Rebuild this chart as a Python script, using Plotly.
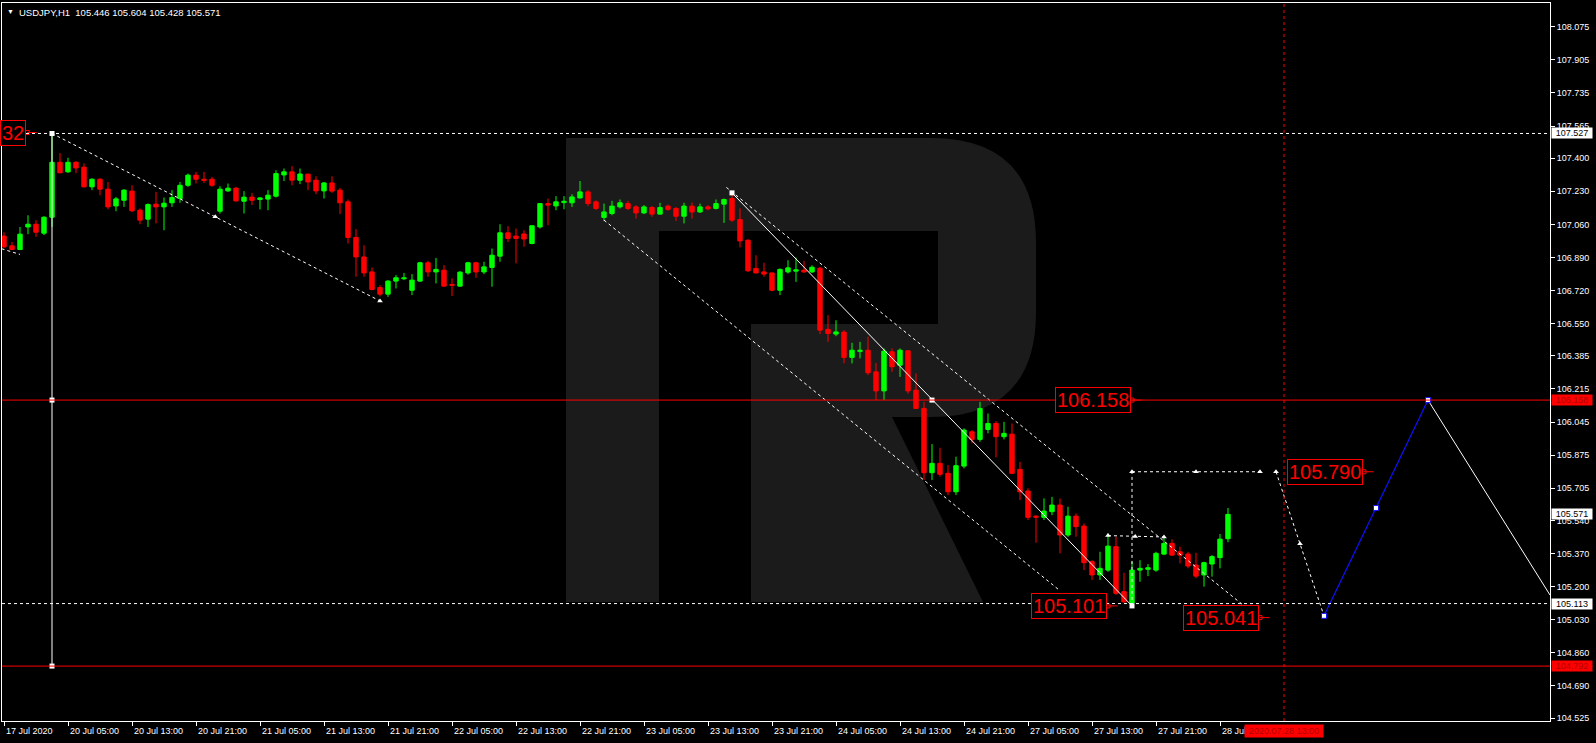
import plotly.graph_objects as go

# ---------------- data ----------------
TITLE_SYMBOL = "USDJPY,H1"
TITLE_OHLC = ["105.446", "105.604", "105.428", "105.571"]

OPEN = [107.000, 106.950, 106.931, 107.047, 107.061, 107.015, 107.097, 107.379, 107.330, 107.379,
        107.354, 107.253, 107.292, 107.241, 107.155, 107.184, 107.231, 107.133, 107.087, 107.164,
        107.150, 107.171, 107.193, 107.261, 107.313, 107.292, 107.292, 107.128, 107.232, 107.246,
        107.179, 107.200, 107.188, 107.190, 107.205, 107.314, 107.330, 107.287, 107.318, 107.287,
        107.232, 107.273, 107.236, 107.176, 106.993, 106.893, 106.816, 106.736, 106.702, 106.769,
        106.781, 106.722, 106.769, 106.863, 106.816, 106.825, 106.752, 106.743, 106.811, 106.863,
        106.816, 106.839, 106.897, 107.017, 107.000, 107.011, 106.962, 107.047, 107.167, 107.155,
        107.172, 107.171, 107.196, 107.227, 107.176, 107.096, 107.116, 107.150, 107.167, 107.150,
        107.119, 107.147, 107.113, 107.154, 107.142, 107.102, 107.154, 107.124, 107.150, 107.142,
        107.164, 107.193, 107.085, 106.979, 106.834, 106.816, 106.811, 106.722, 106.816, 106.820,
        106.825, 106.816, 106.835, 106.521, 106.497, 106.507, 106.377, 106.408, 106.414, 106.303,
        106.205, 106.406, 106.337, 106.411, 106.209, 106.115, 105.785, 105.833, 105.782, 105.687,
        105.819, 105.995, 105.956, 106.007, 106.038, 105.970, 105.983, 105.802, 105.691, 105.562,
        105.556, 105.585, 105.619, 105.465, 105.562, 105.511, 105.328, 105.260, 105.285, 105.405,
        105.174, 105.115, 105.285, 105.289, 105.285, 105.367, 105.422, 105.379, 105.367, 105.311,
        105.260, 105.316, 105.349, 105.446]

HIGH = [107.020, 106.970, 107.047, 107.107, 107.082, 107.102, 107.527, 107.426, 107.402, 107.385,
        107.373, 107.297, 107.297, 107.278, 107.201, 107.241, 107.261, 107.142, 107.168, 107.227,
        107.198, 107.236, 107.278, 107.321, 107.330, 107.330, 107.304, 107.256, 107.270, 107.253,
        107.231, 107.222, 107.201, 107.236, 107.338, 107.347, 107.359, 107.347, 107.321, 107.307,
        107.278, 107.307, 107.248, 107.188, 107.036, 106.953, 106.839, 106.748, 106.774, 106.800,
        106.811, 106.805, 106.868, 106.873, 106.888, 106.851, 106.783, 106.820, 106.868, 106.868,
        106.868, 106.936, 107.061, 107.051, 107.039, 107.030, 107.056, 107.170, 107.193, 107.205,
        107.205, 107.215, 107.283, 107.236, 107.184, 107.167, 107.181, 107.188, 107.181, 107.159,
        107.159, 107.154, 107.171, 107.162, 107.150, 107.171, 107.173, 107.167, 107.159, 107.188,
        107.193, 107.222, 107.142, 106.983, 106.902, 106.863, 106.811, 106.834, 106.876, 106.890,
        106.873, 106.850, 106.842, 106.594, 106.568, 106.517, 106.452, 106.457, 106.483, 106.349,
        106.423, 106.423, 106.423, 106.414, 106.295, 106.149, 105.932, 105.913, 105.824, 105.867,
        106.013, 106.004, 106.149, 106.089, 106.050, 106.046, 106.038, 105.841, 105.705, 105.567,
        105.653, 105.661, 105.653, 105.610, 105.576, 105.525, 105.336, 105.379, 105.473, 105.456,
        105.271, 105.328, 105.336, 105.316, 105.379, 105.453, 105.443, 105.405, 105.379, 105.374,
        105.328, 105.362, 105.470, 105.604]

LOW = [106.938, 106.928, 106.928, 107.010, 106.996, 107.005, 107.047, 107.323, 107.325, 107.323,
       107.250, 107.236, 107.210, 107.138, 107.128, 107.150, 107.124, 107.061, 107.047, 107.065,
       107.030, 107.150, 107.171, 107.253, 107.270, 107.273, 107.253, 107.116, 107.227, 107.176,
       107.116, 107.159, 107.137, 107.133, 107.198, 107.283, 107.261, 107.267, 107.236, 107.215,
       107.193, 107.222, 107.113, 106.962, 106.791, 106.791, 106.722, 106.690, 106.688, 106.731,
       106.774, 106.697, 106.765, 106.791, 106.757, 106.740, 106.692, 106.740, 106.802, 106.786,
       106.805, 106.740, 106.868, 106.970, 106.860, 106.945, 106.958, 107.039, 107.056, 107.133,
       107.138, 107.150, 107.193, 107.154, 107.133, 107.077, 107.107, 107.142, 107.133, 107.090,
       107.113, 107.099, 107.111, 107.130, 107.078, 107.065, 107.090, 107.119, 107.133, 107.137,
       107.068, 107.073, 106.942, 106.816, 106.808, 106.791, 106.717, 106.697, 106.808, 106.765,
       106.811, 106.811, 106.497, 106.457, 106.486, 106.346, 106.346, 106.372, 106.286, 106.158,
       106.158, 106.303, 106.277, 106.190, 106.112, 105.747, 105.747, 105.764, 105.670, 105.670,
       105.807, 105.936, 105.944, 105.987, 105.864, 105.956, 105.778, 105.644, 105.542, 105.425,
       105.542, 105.567, 105.371, 105.456, 105.456, 105.285, 105.234, 105.234, 105.276, 105.157,
       105.117, 105.101, 105.225, 105.254, 105.276, 105.362, 105.357, 105.319, 105.294, 105.243,
       105.200, 105.251, 105.294, 105.428]

CLOSE = [106.945, 106.931, 107.010, 107.061, 107.020, 107.097, 107.379, 107.325, 107.379, 107.350,
         107.253, 107.292, 107.241, 107.150, 107.191, 107.236, 107.130, 107.082, 107.162, 107.150,
         107.169, 107.198, 107.261, 107.313, 107.292, 107.286, 107.261, 107.241, 107.246, 107.181,
         107.200, 107.184, 107.196, 107.210, 107.321, 107.330, 107.287, 107.319, 107.278, 107.232,
         107.273, 107.231, 107.171, 106.993, 106.893, 106.811, 106.726, 106.702, 106.769, 106.786,
         106.786, 106.774, 106.863, 106.816, 106.829, 106.743, 106.747, 106.815, 106.863, 106.816,
         106.842, 106.902, 107.017, 106.988, 106.988, 106.985, 107.053, 107.167, 107.159, 107.176,
         107.179, 107.201, 107.227, 107.167, 107.142, 107.124, 107.154, 107.171, 107.142, 107.119,
         107.150, 107.113, 107.147, 107.137, 107.102, 107.154, 107.124, 107.150, 107.140, 107.167,
         107.188, 107.082, 106.975, 106.822, 106.811, 106.805, 106.722, 106.829, 106.837, 106.827,
         106.816, 106.840, 106.517, 106.500, 106.508, 106.377, 106.414, 106.414, 106.298, 106.205,
         106.409, 106.329, 106.414, 106.205, 106.115, 105.785, 105.833, 105.777, 105.687, 105.821,
         106.004, 105.956, 106.115, 106.038, 105.970, 105.987, 105.782, 105.687, 105.556, 105.556,
         105.588, 105.619, 105.465, 105.562, 105.508, 105.323, 105.260, 105.294, 105.408, 105.166,
         105.122, 105.285, 105.294, 105.297, 105.371, 105.422, 105.362, 105.362, 105.306, 105.254,
         105.323, 105.354, 105.444, 105.571]

DATE_TICK_BARS = [0, 8, 16, 24, 32, 40, 48, 56, 64, 72, 80, 88, 96, 104, 112, 120, 128, 136, 144, 152]
DATE_TICK_LABELS = ["17 Jul 2020", "20 Jul 05:00", "20 Jul 13:00", "20 Jul 21:00", "21 Jul 05:00",
                    "21 Jul 13:00", "21 Jul 21:00", "22 Jul 05:00", "22 Jul 13:00", "22 Jul 21:00",
                    "23 Jul 05:00", "23 Jul 13:00", "23 Jul 21:00", "24 Jul 05:00", "24 Jul 13:00",
                    "24 Jul 21:00", "27 Jul 05:00", "27 Jul 13:00", "27 Jul 21:00", "28 Jul"]
CURSOR_BAR = 160
CURSOR_LABEL = "2020.07.28 13:00"

PRICE_TICKS = [108.075, 107.905, 107.735, 107.565, 107.400, 107.230, 107.060, 106.890, 106.720,
               106.550, 106.385, 106.215, 106.045, 105.875, 105.705, 105.540, 105.370, 105.200,
               105.030, 104.860, 104.690, 104.525]

DOTTED_LEVELS = [107.527, 105.113]
RED_LEVELS = [106.158, 104.792]
AXIS_WHITE_LABELS = [107.527, 105.571, 105.113]
AXIS_RED_LABELS = [106.158, 104.792]

# drawn objects: (bar index, price)
VLINE_X = [6, 6, 6]
VLINE_Y = [107.527, 106.158, 104.792]
TREND_A_X = [6, 47]
TREND_A_Y = [107.527, 106.667]
TREND_A_MARK_X = [26.4, 47]
TREND_A_MARK_Y = [107.100, 106.667]
TREND_0_X = [-0.3, 2]
TREND_0_Y = [106.935, 106.906]
CH_LOW_X = [75, 132]
CH_LOW_Y = [107.082, 105.179]
CH_UP_X = [90.3, 155.5]
CH_UP_Y = [107.250, 105.085]
MID_X = [91, 116, 141]
MID_Y = [107.222, 106.158, 105.101]
FC_V_X = [141, 141]
FC_V_Y = [105.101, 105.790]
FC_H_X = [141, 149, 157]
FC_H_Y = [105.790, 105.790, 105.790]
MIDH_X = [138, 141.4, 145]
MIDH_Y = [105.462, 105.458, 105.455]
FC_D_X = [159, 162, 165]
FC_D_Y = [105.790, 105.420, 105.050]
BLUE_X = [165, 171.5, 178]
BLUE_Y = [105.050, 105.604, 106.158]
WHITE_X = [178, 193.25]
WHITE_Y = [106.158, 105.157]

TEXT_LABELS = ["32", "106.158", "105.101", "105.041", "105.790"]
TEXT_LABEL_X = [2.9, 141.0, 138.0, 157.0, 170.0]
TEXT_LABEL_Y = [107.532, 106.158, 105.101, 105.041, 105.790]

# ---------------- styling constants ----------------
BG = "#000000"
UP = "#00ff00"
DN = "#ff0000"
WHITE = "#ffffff"
RED = "#ff0000"
BLUE = "#1010ff"
LOGO = "#1b1b1b"
FONT = "Liberation Sans, Arial, sans-serif"
DOT = "3px,3px"

W, H = 1596, 743
ML, MR, MT, MB = 2, 46, 3, 22
X_RANGE = [-0.25, 193.25]
Y_RANGE = [104.510, 108.197]

fig = go.Figure()

# ---- candles: wicks ----
n = len(OPEN)
for up, col in ((True, UP), (False, DN)):
    wx, wy = [], []
    for i in range(n):
        if (CLOSE[i] >= OPEN[i]) == up:
            wx += [i, i, None]
            wy += [LOW[i], HIGH[i], None]
    fig.add_trace(go.Scatter(x=wx, y=wy, mode="lines", line=dict(color=col, width=1),
                             hoverinfo="skip", showlegend=False))

# ---- candles: bodies ----
base = [min(o, c) for o, c in zip(OPEN, CLOSE)]
height = [max(abs(c - o), 0.0015) for o, c in zip(OPEN, CLOSE)]
colors = [UP if c >= o else DN for o, c in zip(OPEN, CLOSE)]
fig.add_trace(go.Bar(x=list(range(n)), y=height, base=base, width=0.55,
                     marker=dict(color=colors, line=dict(color=colors, width=1)),
                     hoverinfo="skip", showlegend=False))


def line(x, y, color=WHITE, dash=None, width=1):
    fig.add_trace(go.Scatter(x=x, y=y, mode="lines",
                             line=dict(color=color, width=width, dash=dash),
                             hoverinfo="skip", showlegend=False))


def marks(x, y, symbol, size, color=WHITE, lcolor=None, lwidth=0):
    fig.add_trace(go.Scatter(x=x, y=y, mode="markers",
                             marker=dict(symbol=symbol, size=size, color=color,
                                         line=dict(color=lcolor or color, width=lwidth)),
                             hoverinfo="skip", showlegend=False, cliponaxis=False))


# vertical solid line on the spike bar
line([VLINE_X[0], VLINE_X[-1]], [VLINE_Y[0], VLINE_Y[-1]])
marks(VLINE_X, VLINE_Y, "square", 5)

# dotted trend lines
line(TREND_0_X, TREND_0_Y, dash=DOT)
line(TREND_A_X, TREND_A_Y, dash=DOT)
marks(TREND_A_MARK_X, TREND_A_MARK_Y, "triangle-up", 5)
line(CH_LOW_X, CH_LOW_Y, dash=DOT)
line(CH_UP_X, CH_UP_Y, dash=DOT)

# solid middle line of the channel
line([MID_X[0], MID_X[-1]], [MID_Y[0], MID_Y[-1]])
marks(MID_X, MID_Y, "square", 5)

# forecast dotted path
line(FC_V_X, FC_V_Y, dash=DOT)
line(FC_H_X, FC_H_Y, dash=DOT)
marks(FC_H_X, FC_H_Y, "triangle-up", 5)
line(MIDH_X, MIDH_Y, dash=DOT)
marks(MIDH_X, MIDH_Y, "triangle-up", 5)
line(FC_D_X, FC_D_Y, dash=DOT)
marks(FC_D_X[:2], FC_D_Y[:2], "triangle-up", 5)

# blue leg and white leg
line(BLUE_X, BLUE_Y, color=BLUE, width=1.2)
line(WHITE_X, WHITE_Y, color=WHITE, width=1)
marks(BLUE_X, BLUE_Y, "square", 5, color=WHITE, lcolor=BLUE, lwidth=1)

# little red anchors of the text labels
ax, ay = [], []
for x, y in zip(TEXT_LABEL_X, TEXT_LABEL_Y):
    ax += [x, x + 1.2, None]
    ay += [y, y, None]
line(ax, ay, color=RED, width=1)
marks(TEXT_LABEL_X, TEXT_LABEL_Y, "square-open", 4, color=RED, lcolor=RED, lwidth=1)

# ---------------- shapes ----------------
shapes = []


def P(x, y):
    pw = W - ML - MR
    ph = H - MT - MB
    return f"{(x - ML) / pw:.5f},{(H - MB - y) / ph:.5f}"


logo_path = ("M {} L {} Q {} {} L {} Q {} {} L {} L {} L {} L {} L {} L {} L {} L {} L {} Z").format(
    P(566, 138), P(931, 138), P(1036, 138), P(1036, 243), P(1036, 312),
    P(1036, 417), P(931, 417), P(892, 417), P(983, 602), P(751, 602),
    P(751, 324), P(938, 324), P(938, 231), P(659, 231), P(659, 602), P(566, 602))
shapes.append(dict(type="path", path=logo_path, xref="paper", yref="paper",
                   fillcolor=LOGO, line=dict(width=0), layer="below"))

for lv in DOTTED_LEVELS:
    shapes.append(dict(type="line", xref="paper", yref="y", x0=0, x1=1, y0=lv, y1=lv,
                       line=dict(color=WHITE, width=1, dash=DOT)))
for lv in RED_LEVELS:
    shapes.append(dict(type="line", xref="paper", yref="y", x0=0, x1=1, y0=lv, y1=lv,
                       line=dict(color=RED, width=1)))
shapes.append(dict(type="line", xref="x", yref="paper", x0=CURSOR_BAR, x1=CURSOR_BAR, y0=0, y1=1,
                   line=dict(color=RED, width=1, dash=DOT)))

# ---------------- annotations ----------------
ann = []
ann.append(dict(text="\u25bc", x=0, y=1, xref="paper", yref="paper", xanchor="left", yanchor="top",
                xshift=3, yshift=-3, showarrow=False, font=dict(family=FONT, size=7, color=WHITE)))
ann.append(dict(text=TITLE_SYMBOL + "\u00a0\u00a0" + " ".join(TITLE_OHLC), x=0, y=1,
                xref="paper", yref="paper", xanchor="left", yanchor="top",
                xshift=15, yshift=-2, showarrow=False,
                font=dict(family=FONT, size=9.5, color=WHITE)))

for b, t in zip(DATE_TICK_BARS, DATE_TICK_LABELS):
    ann.append(dict(text=t, x=b, y=0, xref="x", yref="paper", xanchor="left", yanchor="top",
                    yshift=-3, showarrow=False, font=dict(family=FONT, size=9, color=WHITE)))
ann.append(dict(text=CURSOR_LABEL, x=CURSOR_BAR, y=0, xref="x", yref="paper", xanchor="center",
                yanchor="top", yshift=-3, showarrow=False, bgcolor=RED, width=78, height=12,
                borderpad=0, font=dict(family=FONT, size=9, color="#b00000")))

for lv in AXIS_WHITE_LABELS:
    ann.append(dict(text=f"{lv:.3f}", x=1, y=lv, xref="paper", yref="y", xanchor="left",
                    yanchor="middle", xshift=1, showarrow=False, bgcolor=WHITE, width=40, height=10,
                    borderpad=0, font=dict(family=FONT, size=9, color="#000000")))
for lv in AXIS_RED_LABELS:
    ann.append(dict(text=f"{lv:.3f}", x=1, y=lv, xref="paper", yref="y", xanchor="left",
                    yanchor="middle", xshift=1, showarrow=False, bgcolor=RED, width=40, height=10,
                    borderpad=0, font=dict(family=FONT, size=9, color="#b00000")))

for t, x, y in zip(TEXT_LABELS, TEXT_LABEL_X, TEXT_LABEL_Y):
    ann.append(dict(text=t, x=x, y=y, xref="x", yref="y", xanchor="right", yanchor="middle",
                    xshift=-1, showarrow=False, bgcolor=BG, bordercolor=RED, borderwidth=1,
                    borderpad=1, font=dict(family=FONT, size=20, color=RED)))

fig.update_layout(
    width=W, height=H,
    margin=dict(l=ML, r=MR, t=MT, b=MB, pad=0),
    paper_bgcolor=BG, plot_bgcolor=BG,
    showlegend=False,
    barmode="overlay",
    shapes=shapes,
    annotations=ann,
    font=dict(family=FONT, size=9, color=WHITE),
    xaxis=dict(range=X_RANGE, showgrid=False, zeroline=False, showline=True, linecolor=WHITE,
               linewidth=1, mirror=True, ticks="outside", ticklen=4, tickcolor=WHITE,
               tickvals=DATE_TICK_BARS, showticklabels=False, fixedrange=True),
    yaxis=dict(range=Y_RANGE, side="right", showgrid=False, zeroline=False, showline=True,
               linecolor=WHITE, linewidth=1, mirror=True, ticks="outside", ticklen=4,
               tickcolor=WHITE, tickvals=PRICE_TICKS, ticktext=[f"{v:.3f}" for v in PRICE_TICKS],
               tickfont=dict(family=FONT, size=9, color=WHITE), fixedrange=True),
)

fig.write_html("out.html", config={"displayModeBar": False})

# remove the default page margin so the figure fills the window exactly
with open("out.html", encoding="utf-8") as fh:
    page = fh.read()
page = page.replace("<head>", "<head><style>html,body{margin:0;padding:0;overflow:hidden;"
                    "background:#000000;}</style>", 1)
with open("out.html", "w", encoding="utf-8") as fh:
    fh.write(page)
